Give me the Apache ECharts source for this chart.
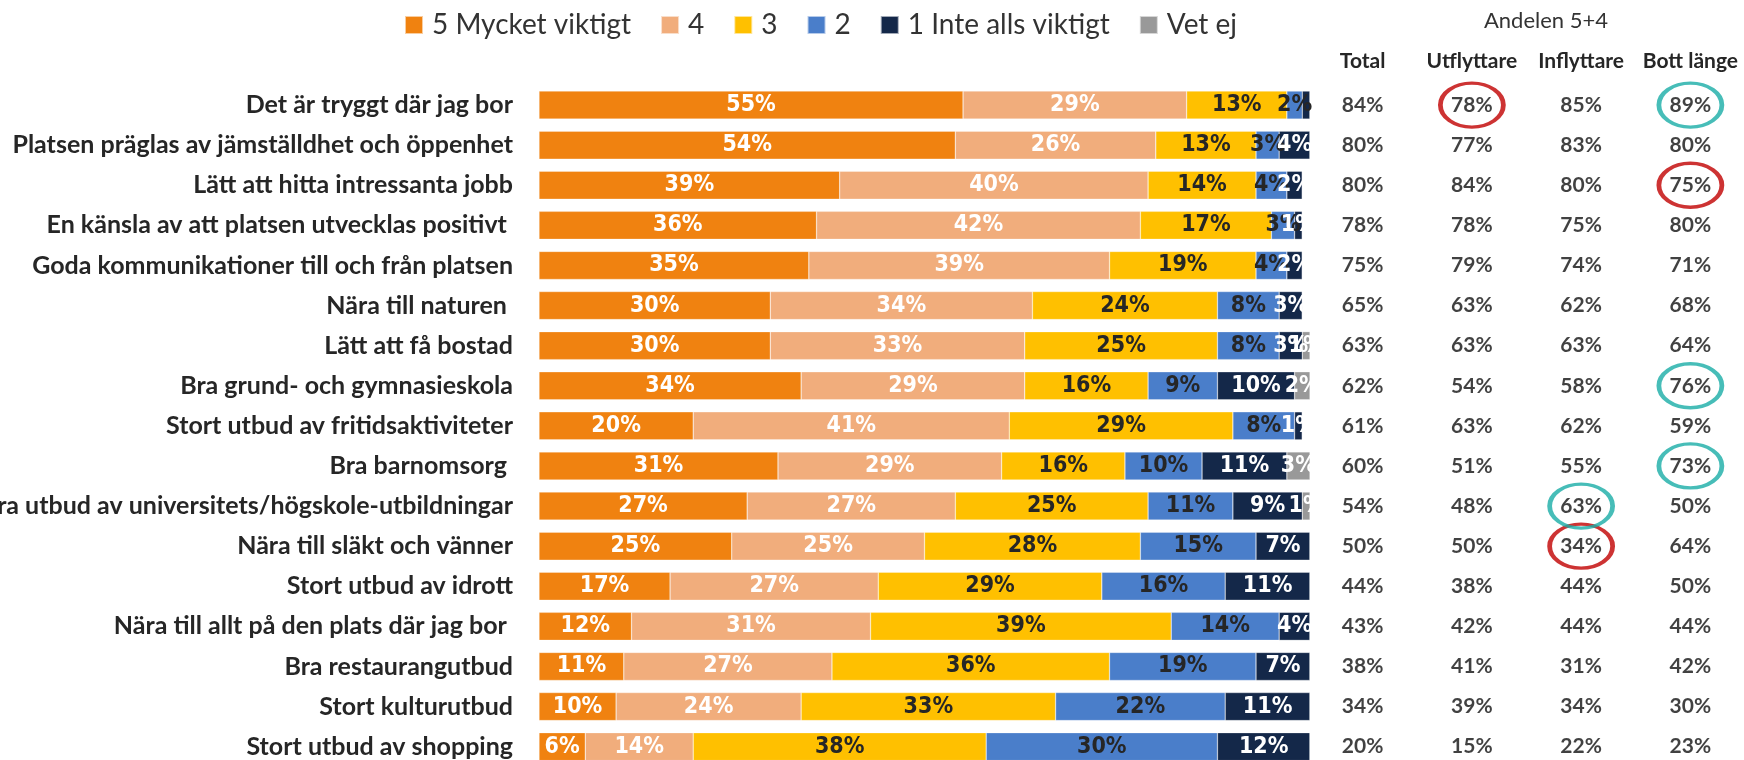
<!DOCTYPE html>
<html>
<head>
<meta charset="utf-8">
<script src="https://cdn.jsdelivr.net/npm/echarts@6/dist/echarts.min.js"></script>
<style>
    html, body { margin: 0; padding: 0; background: #fff; }
    #chart { width: 1744px; height: 760px; }
</style>
</head>
<body>
<div id="chart"></div>
<script>
// kategorier (uppifrån och ned)
const categories = [
    'Det är tryggt där jag bor',
    'Platsen präglas av jämställdhet och öppenhet',
    'Lätt att hitta intressanta jobb',
    'En känsla av att platsen utvecklas positivt ',
    'Goda kommunikationer till och från platsen',
    'Nära till naturen ',
    'Lätt att få bostad',
    'Bra grund- och gymnasieskola',
    'Stort utbud av fritidsaktiviteter',
    'Bra barnomsorg ',
    'Bra utbud av universitets/högskole-utbildningar',
    'Nära till släkt och vänner',
    'Stort utbud av idrott',
    'Nära till allt på den plats där jag bor ',
    'Bra restaurangutbud',
    'Stort kulturutbud',
    'Stort utbud av shopping'
];

// andelar per svarsalternativ (%)
const v5 = [55, 54, 39, 36, 35, 30, 30, 34, 20, 31, 27, 25, 17, 12, 11, 10, 6];
const v4 = [29, 26, 40, 42, 39, 34, 33, 29, 41, 29, 27, 25, 27, 31, 27, 24, 14];
const v3 = [13, 13, 14, 17, 19, 24, 25, 16, 29, 16, 25, 28, 29, 39, 36, 33, 38];
const v2 = [2, 3, 4, 3, 4, 8, 8, 9, 8, 10, 11, 15, 16, 14, 19, 22, 30];
const v1 = [1, 4, 2, 1, 2, 3, 3, 10, 1, 11, 9, 7, 11, 4, 7, 11, 12];
const vetEj = [0, 0, 0, 0, 0, 0, 1, 2, 0, 3, 1, 0, 0, 0, 0, 0, 0];

// tabell: andelen 5+4
const tableCols = ['Total', 'Utflyttare', 'Inflyttare', 'Bott länge'];
const total = [84, 80, 80, 78, 75, 65, 63, 62, 61, 60, 54, 50, 44, 43, 38, 34, 20];
const utflyttare = [78, 77, 84, 78, 79, 63, 63, 54, 63, 51, 48, 50, 38, 42, 41, 39, 15];
const inflyttare = [85, 83, 80, 75, 74, 62, 63, 58, 62, 55, 63, 34, 44, 44, 31, 34, 22];
const bottLange = [89, 80, 75, 80, 71, 68, 64, 76, 59, 73, 50, 64, 50, 44, 42, 30, 23];

// markeringar (kolumn, rad)
const redRings = [['Utflyttare', 0], ['Bott länge', 2], ['Inflyttare', 11]];
const tealRings = [['Bott länge', 0], ['Bott länge', 7], ['Bott länge', 9], ['Inflyttare', 10]];

const barFont = '"Liberation Sans Narrow", "DejaVu Sans Condensed", sans-serif';
const textFont = 'Lato, "Open Sans", sans-serif';
const dark = '#262626';

function barSeries(name, data, color, labelColor) {
    return {
        name: name,
        type: 'bar',
        stack: 'total',
        barWidth: 28,
        data: data,
        itemStyle: { color: color, borderColor: 'rgba(255,255,255,0.6)', borderWidth: 0.5 },
        label: {
            show: true,
            position: 'inside',
            color: labelColor,
            fontFamily: barFont,
            fontWeight: 'bold',
            fontSize: 23,
            formatter: function (p) {
                // etiketten för 1% i första raden syns inte i originalet
                if (!p.value || (p.seriesIndex === 4 && p.dataIndex === 0)) return '';
                return p.value + '%';
            }
        },
        emphasis: { disabled: true }
    };
}

// tabellens celler
const tableColumns = [total, utflyttare, inflyttare, bottLange];
const tableData = [];
tableColumns.forEach((col, c) => {
    col.forEach((v, r) => tableData.push([tableCols[c], categories[r], v]));
});

function ringSeries(list, color) {
    return {
        type: 'scatter',
        xAxisIndex: 1,
        yAxisIndex: 1,
        symbol: 'circle',
        symbolSize: [63, 44],
        data: list.map(d => [d[0], categories[d[1]]]),
        itemStyle: { color: 'rgba(0,0,0,0)', borderColor: color, borderWidth: 4 },
        emphasis: { disabled: true },
        z: 3
    };
}

const rowH = 40.1;

var myChart = echarts.init(document.getElementById('chart'));

const option = {
    animation: false,
    legend: {
        left: 399,
        top: 6,
        itemWidth: 18,
        itemHeight: 18,
        itemGap: 29,
        icon: 'rect',
        textStyle: { fontFamily: textFont, fontSize: 28, color: '#333', padding: [0, 0, 0, 4] },
        data: ['5 Mycket viktigt', '4', '3', '2', '1 Inte alls viktigt', 'Vet ej']
    },
    graphic: [{
        type: 'text',
        x: 1546,
        y: 21,
        style: {
            text: 'Andelen 5+4',
            font: '22px ' + textFont,
            fill: '#333',
            textAlign: 'center',
            textVerticalAlign: 'middle'
        }
    }],
    grid: [
        { left: 539, width: 771, top: 85, height: rowH * 17, outerBoundsMode: 'none' },
        { left: 1308, width: 437, top: 85, height: rowH * 17, outerBoundsMode: 'none' }
    ],
    xAxis: [
        { type: 'value', gridIndex: 0, min: 0, max: 100, show: false },
        {
            type: 'category', gridIndex: 1, position: 'top', data: tableCols,
            axisLine: { show: false }, axisTick: { show: false },
            axisLabel: { color: dark, fontFamily: textFont, fontWeight: 'bold', fontSize: 21, margin: 13, interval: 0 }
        }
    ],
    yAxis: [
        {
            type: 'category', gridIndex: 0, inverse: true, data: categories,
            axisLine: { show: false }, axisTick: { show: false },
            axisLabel: { color: dark, fontFamily: textFont, fontWeight: 'bold', fontSize: 25, margin: 26, interval: 0 }
        },
        { type: 'category', gridIndex: 1, inverse: true, data: categories, show: false }
    ],
    series: [
        barSeries('5 Mycket viktigt', v5, '#F08210', '#fff'),
        barSeries('4', v4, '#F1AD7C', '#fff'),
        barSeries('3', v3, '#FFC000', dark),
        barSeries('2', v2, '#4A7ECA', dark),
        barSeries('1 Inte alls viktigt', v1, '#142849', '#fff'),
        barSeries('Vet ej', vetEj, '#999999', '#fff'),
        {
            type: 'scatter',
            xAxisIndex: 1,
            yAxisIndex: 1,
            symbolSize: 1,
            data: tableData,
            itemStyle: { color: 'rgba(0,0,0,0)' },
            label: {
                show: true,
                position: 'inside',
                color: '#111',
                fontFamily: textFont,
                fontWeight: 'bold',
                fontSize: 21,
                formatter: p => p.value[2] + '%'
            },
            emphasis: { disabled: true },
            z: 4
        },
        ringSeries(redRings, '#C00000'),
        ringSeries(tealRings, '#19ADA6')
    ]
};

myChart.setOption(option);
</script>
</body>
</html>
